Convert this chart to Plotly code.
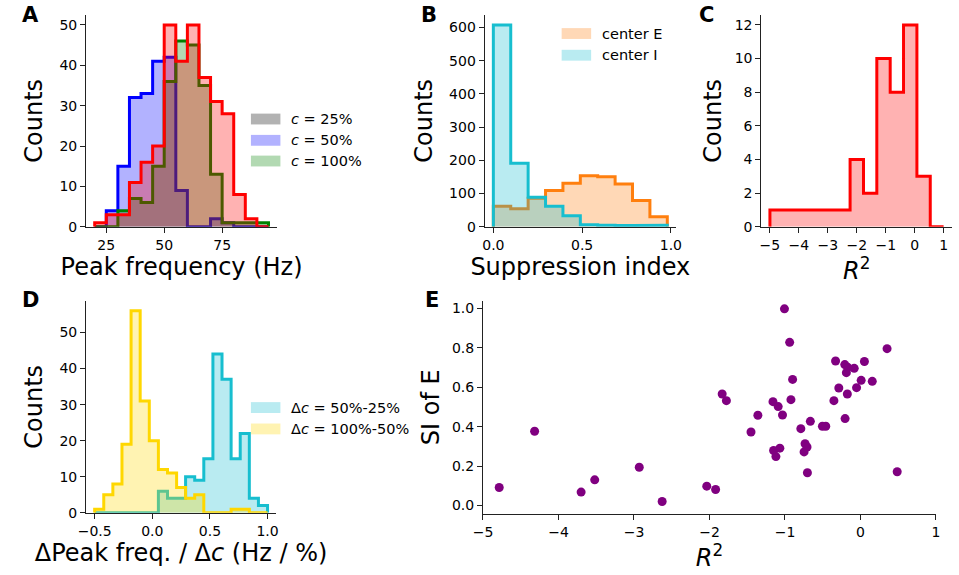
import plotly.graph_objects as go

W, H = 959, 575

# ---------------- data ----------------
# Panel A: peak frequency histograms (5 Hz bins, 20..95 Hz)
edges_A = [20, 25, 30, 35, 40, 45, 50, 55, 60, 65, 70, 75, 80, 85, 90, 95]
counts_A_blue = [0, 4, 15, 32, 33, 41, 42, 9, 0, 0, 2, 1, 0, 0, 0]
counts_A_green = [0, 0, 4, 7, 6, 15, 36, 46, 45, 35, 13, 1, 1, 1, 1]
counts_A_red = [1, 3, 3, 11, 16, 20, 50, 41, 50, 37, 31, 28, 8, 2, 0]
legend_A = ["<i>c</i> = 25%", "<i>c</i> = 50%", "<i>c</i> = 100%"]

# Panel B: suppression index
edges_B = [0.0, 0.098, 0.196, 0.294, 0.392, 0.49, 0.588, 0.686, 0.784, 0.882, 0.98]
counts_B_E = [62, 54, 86, 109, 131, 154, 151, 129, 79, 30]
counts_B_I = [608, 191, 89, 62, 33, 6, 5, 4, 4, 5]
legend_B = ["center E", "center I"]

# Panel C: R^2 histogram
edges_C = [-5.0, -4.538, -4.077, -3.615, -3.154, -2.692, -2.231, -1.769,
           -1.308, -0.846, -0.385, 0.077, 0.538, 1.0]
counts_C = [1, 1, 1, 1, 1, 1, 4, 2, 10, 8, 12, 3, 0]

# Panel D: delta peak frequency / delta c
edges_D = [-0.5, -0.421, -0.342, -0.263, -0.184, -0.105, -0.026, 0.053, 0.132,
           0.211, 0.289, 0.368, 0.447, 0.526, 0.605, 0.684, 0.763, 0.842, 0.921, 1.0]
counts_D_cyan = [0, 0, 0, 0, 0, 0, 0, 6, 4, 4, 10, 9, 15, 44, 37, 15, 22, 4, 2]
counts_D_gold = [1, 5, 8, 19, 56, 31, 20, 12, 11, 7, 4, 5, 0, 0, 0, 1, 1, 0, 0]
legend_D = ["Δ<i>c</i> = 50%-25%", "Δ<i>c</i> = 100%-50%"]

# Panel E: scatter R^2 vs SI of E
r2_E = [-4.785, -4.316, -3.70, -3.52, -2.93, -2.627, -2.036, -1.919, -1.832, -1.776,
        -1.450, -1.359, -1.159, -1.090, -1.033, -1.007, -0.938, -0.899, -0.921, -1.151,
        -1.12, -1.068, -0.790, -0.664, -0.734, -0.708, -0.747, -0.703, -0.504, -0.460,
        -0.352, -0.330, -0.287, -0.208, -0.169, -0.187, -0.083, -0.174, -0.204, -0.052,
        0.009, 0.052, 0.156, 0.352, 0.486]
si_E = [0.091, 0.377, 0.068, 0.130, 0.194, 0.020, 0.098, 0.081, 0.566, 0.532,
        0.373, 0.458, 0.527, 0.502, 0.459, 0.998, 0.828, 0.640, 0.537, 0.279,
        0.248, 0.291, 0.390, 0.427, 0.313, 0.297, 0.272, 0.166, 0.402, 0.402,
        0.532, 0.733, 0.596, 0.715, 0.701, 0.674, 0.696, 0.566, 0.441, 0.598,
        0.635, 0.731, 0.630, 0.796, 0.171]

FONT = "DejaVu Sans"
TICK = 14
LEG = 14.5
TITLE = 24
AXC = "#222222"


def step_xy(edges, counts):
    xs, ys = [edges[0]], [0]
    for i, c in enumerate(counts):
        xs += [edges[i], edges[i + 1]]
        ys += [c, c]
    xs.append(edges[-1])
    ys.append(0)
    return xs, ys


fig = go.Figure()


def add_hist(edges, counts, line, fill, ax):
    xs, ys = step_xy(edges, counts)
    fig.add_trace(go.Scatter(x=xs, y=ys, mode="lines", fill="tozeroy",
                             fillcolor=fill, line=dict(color=line, width=3),
                             xaxis="x" + ax, yaxis="y" + ax, showlegend=False,
                             hoverinfo="skip"))


# A
add_hist(edges_A, counts_A_blue, "#0000ff", "rgba(0,0,255,0.3)", "")
add_hist(edges_A, counts_A_green, "#008000", "rgba(0,128,0,0.3)", "")
add_hist(edges_A, counts_A_red, "#ff0000", "rgba(255,0,0,0.3)", "")
# B
add_hist(edges_B, counts_B_E, "#ff7f0e", "rgba(255,127,14,0.3)", "2")
add_hist(edges_B, counts_B_I, "#17becf", "rgba(23,190,207,0.3)", "2")
# C
add_hist(edges_C, counts_C, "#ff0000", "rgba(255,0,0,0.3)", "3")
# D
add_hist(edges_D, counts_D_cyan, "#17becf", "rgba(23,190,207,0.3)", "4")
add_hist(edges_D, counts_D_gold, "#ffd700", "rgba(255,215,0,0.3)", "4")
# E
fig.add_trace(go.Scatter(x=r2_E, y=si_E, mode="markers",
                         marker=dict(color="#800080", size=9, line=dict(width=0)),
                         xaxis="x5", yaxis="y5", showlegend=False))


def dom_x(a, b):
    return [a / W, b / W]


def dom_y(top, bottom):
    return [1 - bottom / H, 1 - top / H]


def axis(domain, rng, tickvals=None, ticktext=None, title=None, standoff=6, anchor=None, dtick=None, fmt=None):
    d = dict(domain=domain, range=rng, showline=True, linecolor=AXC, linewidth=1,
             ticks="outside", ticklen=5, tickwidth=1, tickcolor=AXC,
             showgrid=False, zeroline=False, anchor=anchor,
             tickfont=dict(family=FONT, size=TICK, color="black"))
    if tickvals is not None:
        d["tickmode"] = "array"
        d["tickvals"] = tickvals
        if ticktext is not None:
            d["ticktext"] = ticktext
    if dtick is not None:
        d["dtick"] = dtick
        d["tick0"] = 0
    if fmt:
        d["tickformat"] = fmt
    if title:
        d["title"] = dict(text=title, standoff=standoff, font=dict(family=FONT, size=TITLE, color="black"))
    return d


rowA = dom_y(15, 230)
rowD = dom_y(305, 520)
XS = 4
YS = 9

fig.update_layout(
    width=W, height=H, margin=dict(l=0, r=0, t=0, b=0),
    plot_bgcolor="white", paper_bgcolor="white",
    font=dict(family=FONT, color="black"),
    xaxis=axis(dom_x(77.3, 271.7), [16.25, 98.75], tickvals=[25, 50, 75], title="Peak frequency (Hz)", standoff=XS, anchor="y"),
    yaxis=axis(rowA, [0, 52.5], dtick=10, title="Counts", standoff=YS, anchor="x"),
    xaxis2=axis(dom_x(482.7, 677.3), [-0.049, 1.029], tickvals=[0, 0.5, 1.0], ticktext=["0.0", "0.5", "1.0"], title="Suppression index", standoff=XS, anchor="y2"),
    yaxis2=axis(rowA, [0, 638.4], dtick=100, title="Counts", standoff=YS, anchor="x2"),
    xaxis3=axis(dom_x(764, 958.3), [-5.3, 1.3], dtick=1, title="<i>R</i><sup>2</sup>", standoff=XS, anchor="y3"),
    yaxis3=axis(rowA, [0, 12.6], dtick=2, title="Counts", standoff=6, anchor="x3"),
    xaxis4=axis(dom_x(77.3, 270.7), [-0.575, 1.075], dtick=0.5, fmt=".1f", title="ΔPeak freq. / Δ<i>c</i> (Hz / %)", standoff=XS, anchor="y4"),
    yaxis4=axis(rowD, [0, 58.8], dtick=10, title="Counts", standoff=YS, anchor="x4"),
    xaxis5=axis(dom_x(481, 941.7), [-5, 1], dtick=1, title="<i>R</i><sup>2</sup>", standoff=XS, anchor="y5"),
    yaxis5=axis(dom_y(305, 521), [-0.042, 1.039], dtick=0.2, fmt=".1f", title="SI of E", standoff=5, anchor="x5"),
)

shapes = []
annotations = []


def legend(items, x0, ys):
    for (label, col), yc in zip(items, ys):
        shapes.append(dict(type="rect", xref="paper", yref="paper",
                           x0=x0 / W, x1=(x0 + 30) / W,
                           y0=1 - (yc + 5.5) / H, y1=1 - (yc - 5.5) / H,
                           fillcolor=col, line=dict(width=0)))
        annotations.append(dict(text=label, xref="paper", yref="paper",
                                x=(x0 + 39) / W, y=1 - yc / H, xanchor="left", yanchor="middle",
                                showarrow=False, font=dict(family=FONT, size=LEG, color="black")))


legend(list(zip(legend_A, ["rgba(0,0,0,0.3)", "rgba(0,0,255,0.3)", "rgba(0,128,0,0.3)"])), 245, [120.7, 142.3, 163.3])
legend(list(zip(legend_B, ["rgba(255,127,14,0.3)", "rgba(23,190,207,0.3)"])), 561, [34, 56])
legend(list(zip(legend_D, ["rgba(23,190,207,0.3)", "rgba(255,215,0,0.3)"])), 245, [413.3, 435])

for letter, x, y in [("A", 20.5, 15), ("B", 426, 15), ("C", 708, 15), ("D", 20.5, 304.5), ("E", 429, 304.5)]:
    annotations.append(dict(text="<b>%s</b>" % letter, xref="paper", yref="paper",
                            x=x / W, y=1 - y / H, xanchor="center", yanchor="middle",
                            showarrow=False, font=dict(family=FONT, size=21, color="black")))

fig.update_layout(shapes=shapes, annotations=annotations)
fig.write_html("out.html")
